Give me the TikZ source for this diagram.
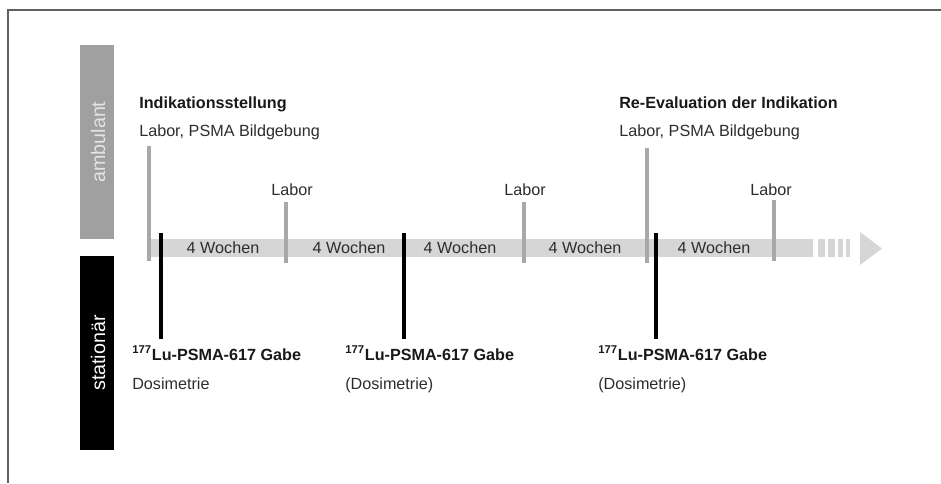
\documentclass[tikz,border=0pt]{standalone}
\usepackage{fontspec}
\setmainfont{Liberation Sans}
\usepackage{tikz}

\definecolor{framegray}{RGB}{95,95,95}
\definecolor{ambgray}{RGB}{160,160,160}
\definecolor{ambtext}{RGB}{228,228,228}
\definecolor{bandgray}{RGB}{214,214,214}
\definecolor{markgray}{RGB}{168,168,168}
\definecolor{textgray}{RGB}{45,45,45}

\tikzset{
    txt/.style={anchor=base west, inner sep=0pt, text=textgray, font=\fontsize{11.5}{13}\selectfont},
    boldtxt/.style={txt, text=black!90, font=\fontsize{11.5}{13}\selectfont\bfseries},
    weektxt/.style={txt, anchor=base},
    sidetxt/.style={rotate=90, inner sep=0pt, font=\fontsize{14}{16}\selectfont},
    graymark/.style={draw=markgray, line width=2.2pt},
    blackmark/.style={draw=black, line width=2.8pt}
}

\begin{document}
\begin{tikzpicture}[x=0.025cm, y=-0.025cm]
    \useasboundingbox (0,0) rectangle (941,483);

    % Frame, only top and left edge
    \draw[framegray, line width=0.8pt] (941,10) -- (8,10) -- (8,483);

    % Side bars
    \fill[ambgray] (80,45) rectangle (114,239);
    \fill[black] (80,256) rectangle (114,450);
    \node[sidetxt, text=ambtext] (amb) at (98,142) {ambulant};
    \node[sidetxt, text=white] (stat) at (98,353) {stationär};

    % Time band with broken end and arrow head
    \fill[bandgray] (150,239) rectangle (813,257);
    \foreach \a/\b in {818/825, 828/835, 838/843, 846/850} {
        \fill[bandgray] (\a,239) rectangle (\b,257);
    }
    \fill[bandgray] (860,232) -- (882,248.5) -- (860,265) -- cycle;

    % Interval labels
    \foreach \x/\n in {223/1, 349/2, 460/3, 585/4, 714/5} {
        \node[weektxt] (week\n) at (\x,253) {4 Wochen};
    }

    % Gray markers (ambulant)
    \foreach \x/\top/\bot in {149/146/261, 286/202/263, 524/202/263, 647/148/263, 774/200/261} {
        \draw[graymark] (\x,\top) -- (\x,\bot);
    }

    % Black markers (stationaer)
    \foreach \x in {161, 404, 656} {
        \draw[blackmark] (\x,233) -- (\x,339);
    }

    % Labels above the band
    \node[boldtxt] (ind) at (139,108) {Indikationsstellung};
    \node[txt] (indsub) at (139,136) {Labor, PSMA Bildgebung};
    \node[boldtxt] (reev) at (619,108) {Re-Evaluation der Indikation};
    \node[txt] (reevsub) at (619,136) {Labor, PSMA Bildgebung};
    \foreach \x/\n in {292/1, 525/2, 771/3} {
        \node[weektxt] (labor\n) at (\x,195) {Labor};
    }

    % Labels below the band
    \node[boldtxt] (gabe1) at (132,360) {\textsuperscript{177}Lu-PSMA-617 Gabe};
    \node[txt] (dosi1) at (132,389) {Dosimetrie};
    \node[boldtxt] (gabe2) at (345,360) {\textsuperscript{177}Lu-PSMA-617 Gabe};
    \node[txt] (dosi2) at (345,389) {(Dosimetrie)};
    \node[boldtxt] (gabe3) at (598,360) {\textsuperscript{177}Lu-PSMA-617 Gabe};
    \node[txt] (dosi3) at (598,389) {(Dosimetrie)};

\end{tikzpicture}
\end{document}
